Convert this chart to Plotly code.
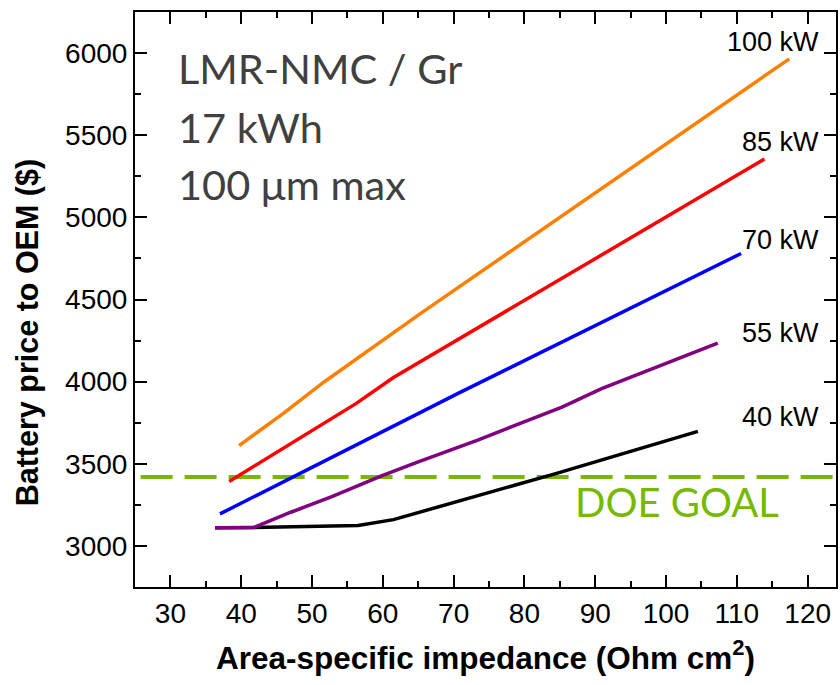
import plotly.graph_objects as go

# ---- data ----
x_100 = [39.7, 46.0, 51.7, 65.0, 117.4]
y_100 = [3611, 3808, 3998, 4405, 5965]

x_85 = [38.3, 56.2, 61.5, 113.9]
y_85 = [3392, 3866, 4025, 5355]

x_70 = [37.0, 48.1, 70.7, 110.6]
y_70 = [3195, 3439, 3930, 4780]

x_55 = [36.3, 41.8, 47.0, 52.8, 59.9, 65.0, 73.5, 85.3, 90.9, 107.3]
y_55 = [3110, 3112, 3205, 3300, 3428, 3512, 3646, 3845, 3957, 4235]

x_40 = [36.3, 41.5, 56.5, 61.5, 84.3, 104.5]
y_40 = [3110, 3112, 3125, 3160, 3439, 3697]

DOE_GOAL = 3420

series_names = ["40 kW", "55 kW", "70 kW", "85 kW", "100 kW"]
series_x = [x_40, x_55, x_70, x_85, x_100]
series_y = [y_40, y_55, y_70, y_85, y_100]
series_colors = ["#000000", "#800080", "#0000FF", "#FF0000", "#FF8000"]

x_ticks = [30, 40, 50, 60, 70, 80, 90, 100, 110, 120]
y_ticks = [3000, 3500, 4000, 4500, 5000, 5500, 6000]

W, H = 840, 685
L, R, T, B = 135, 2, 12, 98
PW, PH = W - L - R, H - T - B


def px(xp):
    return (xp - L) / PW


def py(yp):
    return (H - B - yp) / PH


fig = go.Figure()
for name, xs, ys, c in zip(series_names, series_x, series_y, series_colors):
    fig.add_trace(go.Scatter(x=xs, y=ys, mode="lines", name=name,
                             line=dict(color=c, width=3.5), showlegend=False))

fig.add_shape(type="line", xref="paper", yref="y", x0=0.008, x1=1, y0=DOE_GOAL, y1=DOE_GOAL,
              line=dict(color="#76B900", width=4, dash="32px,12px"), layer="below")

axis_common = dict(showline=True, linecolor="black", linewidth=2, mirror="ticks",
                   ticks="inside", ticklen=12, tickwidth=2, tickcolor="black",
                   showgrid=False, zeroline=False,
                   tickfont=dict(family="Liberation Sans, Arial", size=28, color="black"))

fig.update_layout(
    width=W, height=H,
    margin=dict(l=L, r=R, t=T, b=B),
    paper_bgcolor="white", plot_bgcolor="white",
    xaxis=dict(range=[25, 124], tickvals=x_ticks,
               minor=dict(dtick=5, tick0=25, ticks="inside", ticklen=6, tickwidth=2, tickcolor="black"),
               title=dict(text="Area-specific impedance (Ohm cm<sup>2</sup>)",
                          font=dict(family="Liberation Sans, Arial", size=31.5, color="black", weight="bold"),
                          standoff=19),
               **axis_common),
    yaxis=dict(range=[2750, 6250], tickvals=y_ticks,
               minor=dict(dtick=250, tick0=2750, ticks="inside", ticklen=6, tickwidth=2, tickcolor="black"),
               **axis_common),
)

# y-axis title (placed as annotation to match vertical offset of the reference)
fig.add_annotation(x=px(27), y=py(333), xref="paper", yref="paper",
                   text="<b>Battery price to OEM ($)</b>", showarrow=False, textangle=-90,
                   xanchor="center", yanchor="middle",
                   font=dict(family="Liberation Sans, Arial", size=30.5, color="black"))

# labels for series
label_pos = {"100 kW": 42, "85 kW": 142, "70 kW": 240, "55 kW": 333, "40 kW": 417}
for name in series_names:
    fig.add_annotation(x=px(823), y=py(label_pos[name]), xref="paper", yref="paper",
                       text=name, showarrow=False, xanchor="right", yanchor="middle",
                       font=dict(family="Liberation Sans, Arial", size=27, color="black"))

info_lines = ["LMR-NMC / Gr", "17 kWh", "100 μm max"]
info_y = [68, 127, 184]
for t, yy in zip(info_lines, info_y):
    fig.add_annotation(x=px(176), y=py(yy), xref="paper", yref="paper",
                       text=t, showarrow=False, xanchor="left", yanchor="middle",
                       font=dict(family="Lato, Open Sans", size=41.5, color="#404040"))

fig.add_annotation(x=px(679), y=py(502), xref="paper", yref="paper",
                   text="DOE GOAL", showarrow=False, xanchor="center", yanchor="middle",
                   font=dict(family="Lato, Open Sans", size=40, color="#76B900"))

fig.write_html("out.html")
